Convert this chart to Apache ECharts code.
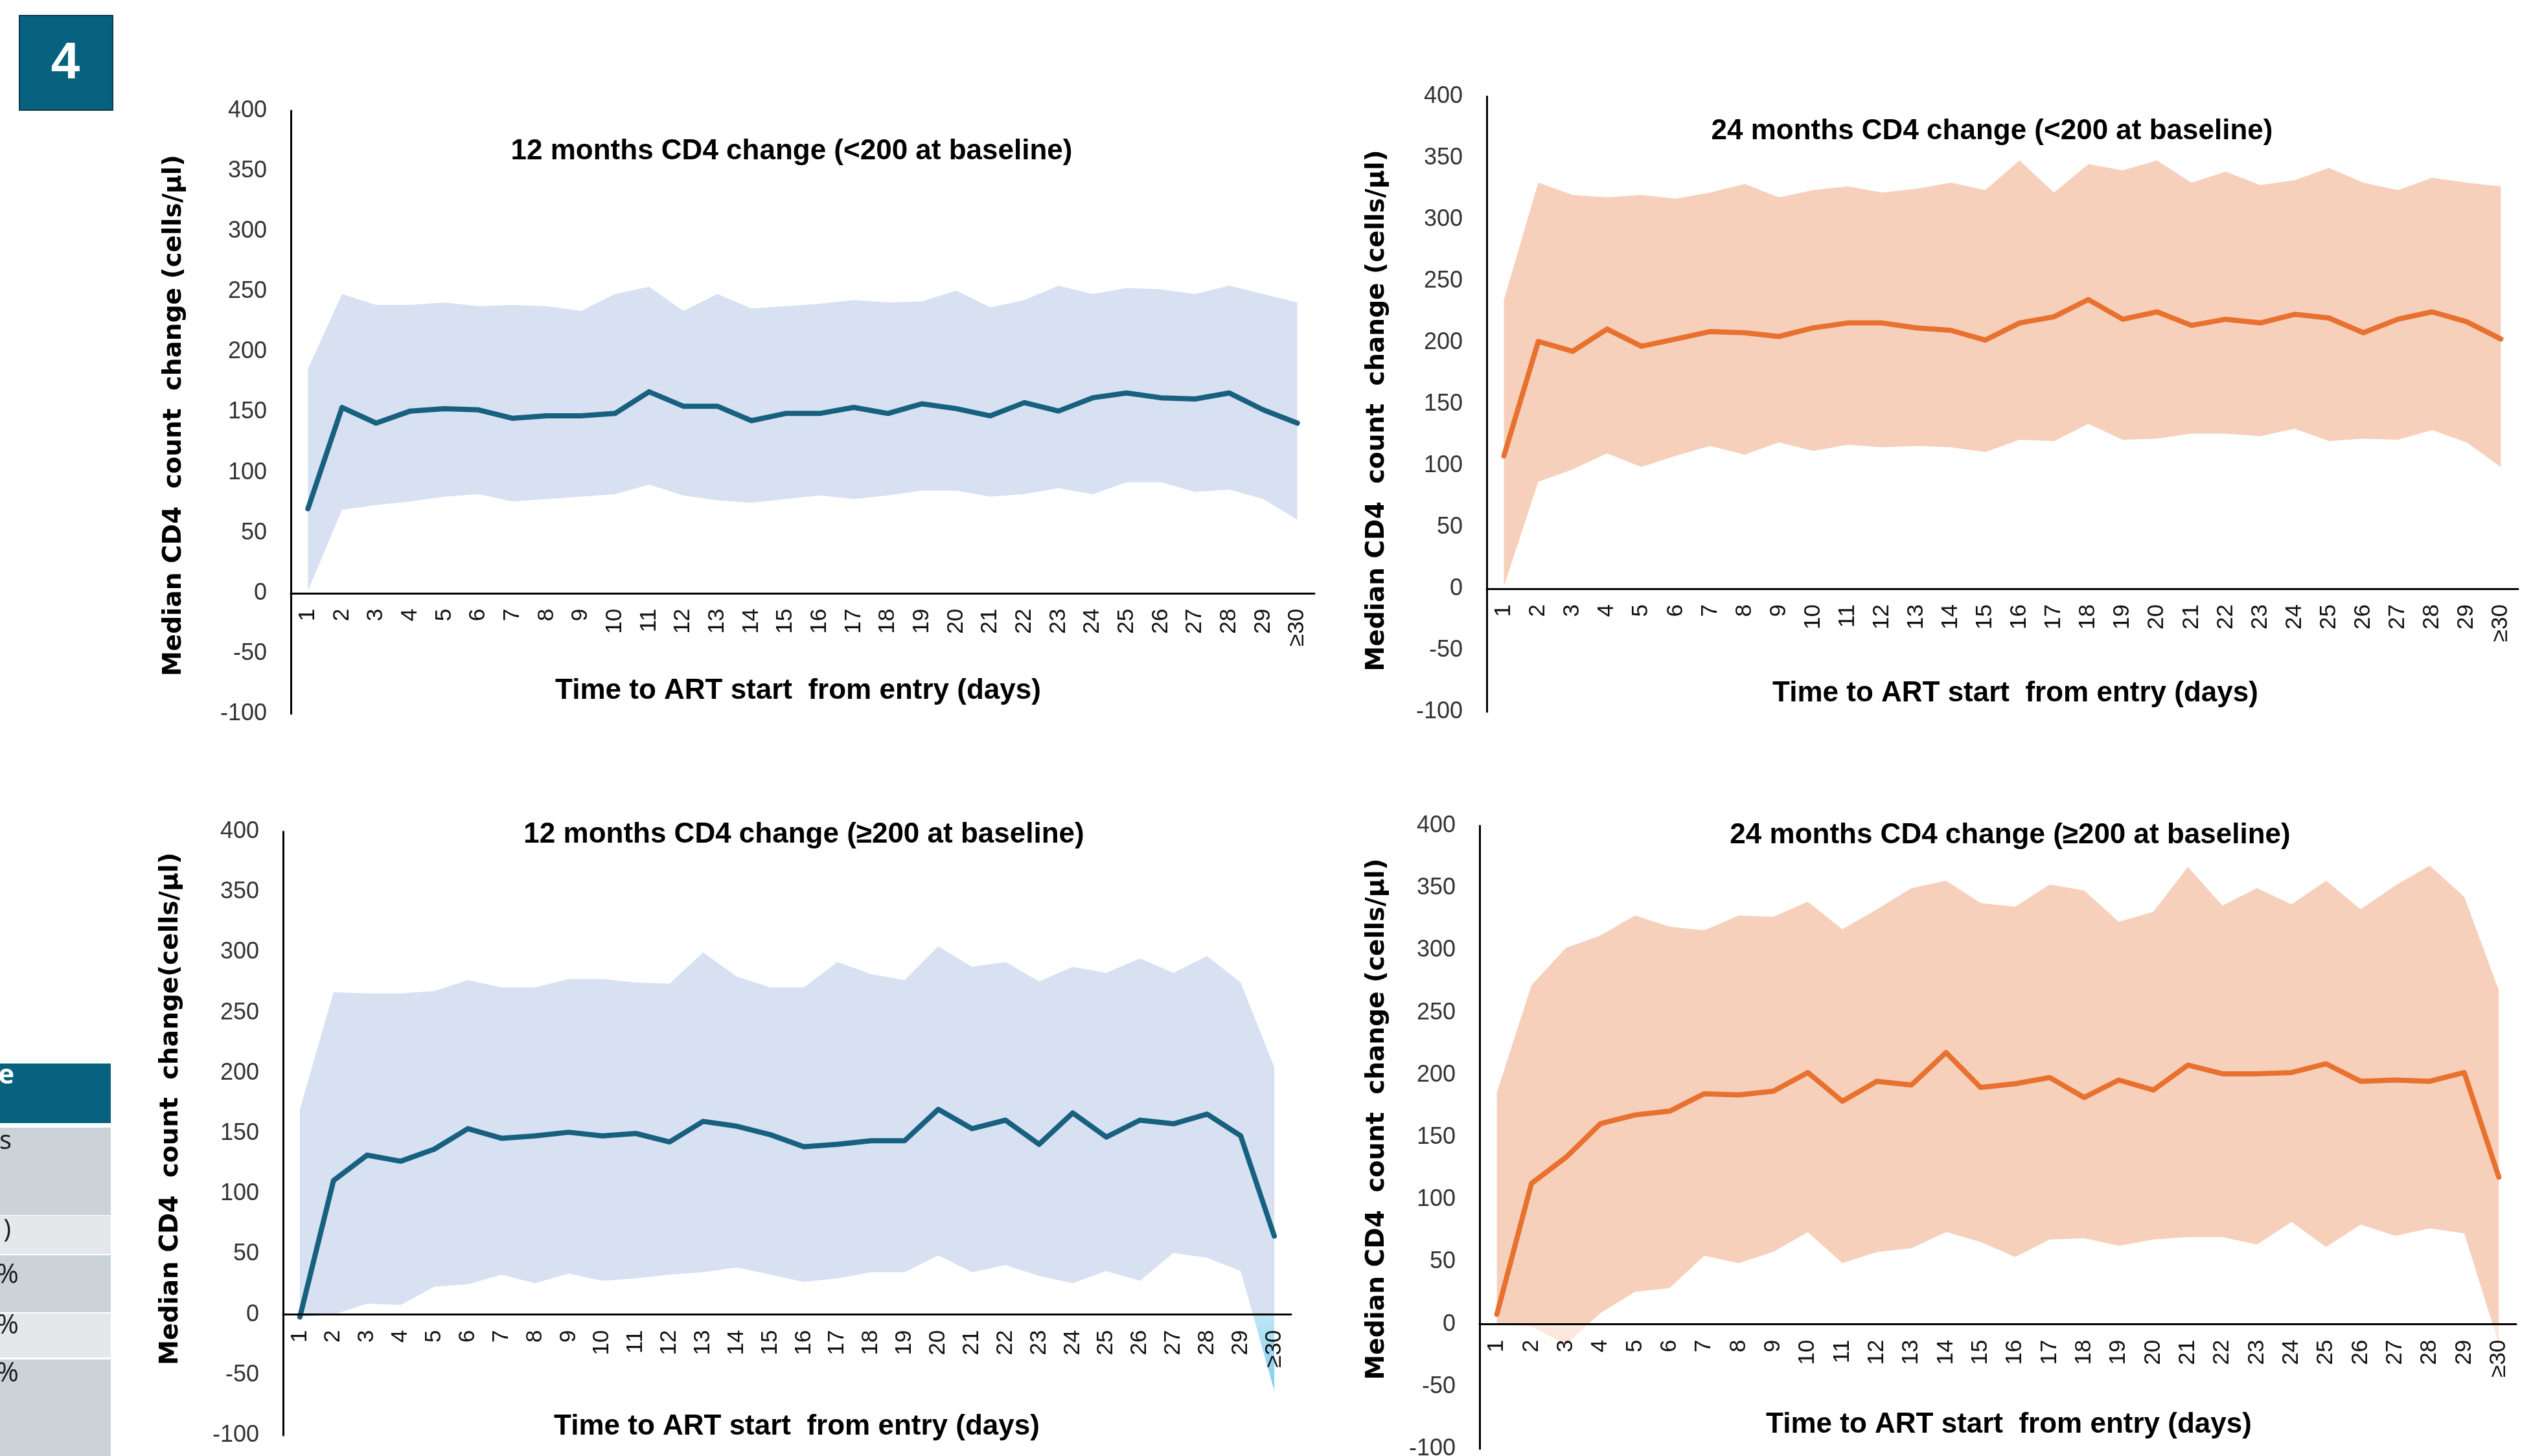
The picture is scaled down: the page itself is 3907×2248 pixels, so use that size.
<!DOCTYPE html>
<html><head><meta charset="utf-8">
<script src="https://cdn.jsdelivr.net/npm/echarts@6/dist/echarts.min.js"></script>
<style>html,body{margin:0;padding:0;background:#fff}#c{width:3907px;height:2248px}</style>
</head><body><div id="c"></div>
<script>
// ---------- data ----------
const days = ['1','2','3','4','5','6','7','8','9','10','11','12','13','14','15','16','17','18','19','20','21','22','23','24','25','26','27','28','29','≥30'];
const yMin = -100, yMax = 400, yStep = 50;

const titles = [
  '12 months CD4 change (<200 at baseline)',
  '24 months CD4 change (<200 at baseline)',
  '12 months CD4 change (≥200 at baseline)',
  '24 months CD4 change (≥200 at baseline)'
];
const xName = 'Time to ART start  from entry (days)';
const yNames = [
  'Median CD4  count  change (cells/µl)',
  'Median CD4  count  change (cells/µl)',
  'Median CD4  count  change(cells/µl)',
  'Median CD4  count  change (cells/µl)'
];

// 12 months, <200 at baseline
const med12lo = [70,154,141,151,153,152,145,147,147,149,167,155,155,143,149,149,154,149,157,153,147,158,151,162,166,162,161,166,152,141];
const up12lo  = [186,248,239,239,241,238,239,238,234,248,254,234,248,236,238,240,243,241,242,251,237,243,255,248,253,252,248,255,248,241];
const low12lo = [2,69,73,76,80,82,76,78,80,82,90,81,77,75,78,81,78,81,85,85,80,82,87,82,92,92,84,86,78,61];

// 24 months, <200 at baseline
const med24lo = [108,201,193,211,197,203,209,208,205,212,216,216,212,210,202,216,221,235,219,225,214,219,216,223,220,208,219,225,217,203];
const up24lo  = [235,330,320,318,320,317,322,329,318,324,327,322,325,330,324,348,322,345,340,348,330,339,328,332,342,330,324,334,330,327];
const low24lo = [2,87,97,110,99,108,116,109,119,112,117,115,116,115,111,121,120,134,121,122,126,126,124,130,120,122,121,129,119,99];

// 12 months, >=200 at baseline
const med12hi = [-2,111,132,127,137,154,146,148,151,148,150,143,160,156,149,139,141,144,144,170,154,161,141,167,147,161,158,166,148,65];
const up12hi  = [170,267,266,266,268,277,271,271,278,278,275,274,300,280,271,271,292,282,277,305,288,292,276,288,283,295,283,297,275,205];
const low12hi = [-2,0,9,8,23,25,33,26,34,28,30,33,35,39,33,27,30,35,35,49,35,41,32,26,36,28,51,47,36,-63];

// 24 months, >=200 at baseline
const med24hi = [8,113,134,161,168,171,185,184,187,202,179,195,192,218,190,193,198,182,196,188,208,201,201,202,209,195,196,195,202,118];
const up24hi  = [186,272,302,312,328,319,316,328,327,339,317,333,350,356,338,335,353,348,323,331,367,336,350,337,356,333,352,368,343,268];
const low24hi = [0,-2,-16,9,26,29,55,49,58,74,49,58,61,74,66,54,68,69,63,68,70,70,64,82,62,80,71,77,73,-16];

// ---------- styling / layout ----------
const F = '"Liberation Sans", Arial, sans-serif';
const BLUE = '#17607F', BLUE_BAND = '#D8E1F2';
const ORANGE = '#E8712F', ORANGE_BAND = '#F6D0BB';

const panels = [
  {med: med12lo, up: up12lo, low: low12lo, line: BLUE,   band: BLUE_BAND,   g: [449, 171, 1580, 931],  tp: [1222, 212], xg: 129, xpad: [0,14,0,0], yg: 161, ypad: [0,10,0,0]},
  {med: med24lo, up: up24lo, low: low24lo, line: ORANGE, band: ORANGE_BAND, g: [2295, 149, 1592, 950], tp: [3075, 181], xg: 140, xpad: [0,0,0,40], yg: 150, ypad: [0,20,0,0]},
  {med: med12hi, up: up12hi, low: low12hi, line: BLUE,   band: BLUE_BAND,   g: [437, 1284, 1556, 932], tp: [1241, 1267], xg: 151, xpad: [0,0,0,30], yg: 154, ypad: [0,0,0,76],
   neg: ['#BFE6F7', '#52BEEA']},
  {med: med24hi, up: up24hi, low: low24hi, line: ORANGE, band: ORANGE_BAND, g: [2284, 1275, 1600, 962], tp: [3103, 1268], xg: 133, xpad: [0,0,0,34], yg: 139, ypad: [0,0,0,56],
   neg: ['#FCECE3', '#EFB795']}
];

// distance (px) from the grid bottom up to the value 0
function zeroOffset(p) { return p.g[3] * (0 - yMin) / (yMax - yMin); }

function bandColor(p) {
  if (!p.neg) return p.band;
  const top = p.g[1], h = p.g[3];
  const f0 = yMax / (yMax - yMin);
  return new echarts.graphic.LinearGradient(0, top, 0, top + h, [
    {offset: 0, color: p.band},
    {offset: f0, color: p.band},
    {offset: f0 + 0.0001, color: p.neg[0]},
    {offset: 1, color: p.neg[1]}
  ], true);
}

const option = {
  animation: false,
  backgroundColor: '#fff',
  title: panels.map((p, i) => ({
    text: titles[i], left: p.tp[0], top: p.tp[1], textAlign: 'center', padding: 0,
    textStyle: {fontFamily: F, fontSize: 44, fontWeight: 'bold', color: '#000', lineHeight: 44}
  })),
  grid: panels.map(p => ({left: p.g[0], top: p.g[1], width: p.g[2], height: p.g[3], containLabel: false, outerBoundsMode: 'none'})),
  xAxis: panels.map((p, i) => ({
    type: 'category', gridIndex: i, data: days, boundaryGap: true, z: 10,
    position: 'bottom', offset: -zeroOffset(p),
    axisLine: {onZero: false, lineStyle: {color: '#000', width: 3}},
    axisTick: {show: false}, splitLine: {show: false},
    axisLabel: {interval: 0, rotate: 90, margin: 24, fontSize: 35, color: '#111', fontFamily: F},
    name: xName, nameLocation: 'middle', nameGap: p.xg, nameMoveOverlap: false,
    nameTextStyle: {fontFamily: F, fontSize: 44, fontWeight: 'bold', color: '#000', lineHeight: 44, padding: p.xpad}
  })),
  yAxis: panels.map((p, i) => ({
    type: 'value', gridIndex: i, min: yMin, max: yMax, interval: yStep, z: 10,
    axisLine: {show: true, onZero: false, lineStyle: {color: '#000', width: 3}},
    axisTick: {show: false}, splitLine: {show: false},
    axisLabel: {margin: 37, fontSize: 36, color: '#333', fontFamily: F},
    name: yNames[i], nameLocation: 'middle', nameRotate: 90, nameGap: p.yg, nameMoveOverlap: false,
    nameTextStyle: {fontFamily: '"DejaVu Sans", Verdana, sans-serif', fontSize: 39, fontWeight: 'bold', color: '#000', lineHeight: 39, padding: p.ypad}
  })),
  series: panels.flatMap((p, i) => [
    {type: 'line', xAxisIndex: i, yAxisIndex: i, data: p.low, stack: 'band' + i, stackStrategy: 'all',
     symbol: 'none', silent: true, lineStyle: {opacity: 0}, z: 1},
    {type: 'line', xAxisIndex: i, yAxisIndex: i, data: p.up.map((u, k) => u - p.low[k]), stack: 'band' + i, stackStrategy: 'all',
     symbol: 'none', silent: true, lineStyle: {opacity: 0}, areaStyle: {color: bandColor(p), opacity: 1}, z: 1},
    {type: 'line', xAxisIndex: i, yAxisIndex: i, data: p.med, symbol: 'none',
     lineStyle: {color: p.line, width: 8, cap: 'round', join: 'round'}, z: 3}
  ]),
  graphic: [
    {type: 'rect', shape: {x: 30, y: 24, width: 144, height: 146}, style: {fill: '#07627F', stroke: '#0B3A4A', lineWidth: 2}},
    {type: 'text', x: 101, y: 99, style: {text: '4', fill: '#fff', font: 'bold 80px "Liberation Sans", Arial, sans-serif', align: 'center', verticalAlign: 'middle'}},
    {type: 'rect', shape: {x: 0, y: 1642, width: 171, height: 92}, style: {fill: '#07627F'}},
    {type: 'rect', shape: {x: 0, y: 1741, width: 171, height: 135}, style: {fill: '#CBD3D9'}},
    {type: 'rect', shape: {x: 0, y: 1877, width: 171, height: 59}, style: {fill: '#E4E8EB'}},
    {type: 'rect', shape: {x: 0, y: 1938, width: 171, height: 88}, style: {fill: '#CBD3D9'}},
    {type: 'rect', shape: {x: 0, y: 2028, width: 171, height: 68}, style: {fill: '#E4E8EB'}},
    {type: 'rect', shape: {x: 0, y: 2099, width: 171, height: 149}, style: {fill: '#CBD3D9'}},
    {type: 'text', x: 22, y: 1661, style: {text: 'e', fill: '#fff', font: 'bold 42px "Open Sans", sans-serif', align: 'right', verticalAlign: 'middle'}},
    {type: 'text', x: 18, y: 1763, style: {text: 's', fill: '#1a1a1a', font: '40px "Open Sans", sans-serif', align: 'right', verticalAlign: 'middle'}},
    {type: 'text', x: 17, y: 1900, style: {text: ')', fill: '#1a1a1a', font: '40px "Open Sans", sans-serif', align: 'right', verticalAlign: 'middle'}},
    {type: 'text', x: 29, y: 1969, style: {text: '%', fill: '#1a1a1a', font: '42px "Open Sans", sans-serif', align: 'right', verticalAlign: 'middle'}},
    {type: 'text', x: 29, y: 2047, style: {text: '%', fill: '#1a1a1a', font: '42px "Open Sans", sans-serif', align: 'right', verticalAlign: 'middle'}},
    {type: 'text', x: 29, y: 2121, style: {text: '%', fill: '#1a1a1a', font: '42px "Open Sans", sans-serif', align: 'right', verticalAlign: 'middle'}}
  ]
};

const chart = echarts.init(document.getElementById('c'), null, {renderer: 'canvas', width: 3907, height: 2248});
chart.setOption(option);
</script>
</body></html>
